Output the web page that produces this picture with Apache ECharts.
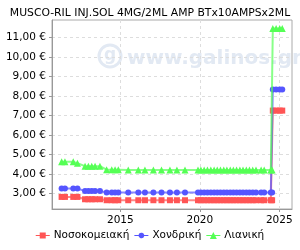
<!DOCTYPE html>
<html><head><meta charset="utf-8">
<script src="https://cdn.jsdelivr.net/npm/echarts@6/dist/echarts.min.js"></script>
<style>html,body{margin:0;padding:0;background:#fff}#c{width:300px;height:250px}</style>
</head><body><div id="c"></div>
<script>
var title = 'MUSCO-RIL INJ.SOL 4MG/2ML AMP BTx10AMPSx2ML';
var seriesNames = ['Νοσοκομειακή', 'Χονδρική', 'Λιανική'];
var dates = ['2011-04-22','2011-07-08','2012-01-15','2012-04-20','2012-10-12','2012-12-28','2013-03-15','2013-05-30','2013-09-20','2014-02-20','2014-06-18','2014-09-02','2014-11-15','2015-07-01','2016-02-18','2016-07-20','2017-01-30','2017-08-04','2018-02-14','2018-07-24','2019-01-26','2019-11-20','2020-01-25','2020-04-10','2020-06-25','2020-09-10','2020-11-25','2021-02-05','2021-04-20','2021-07-05','2021-09-15','2021-12-01','2022-02-10','2022-04-25','2022-07-10','2022-09-20','2022-12-05','2023-02-15','2023-05-01','2023-07-15','2023-11-10','2024-01-20','2024-06-20','2024-07-20','2024-08-05','2024-10-20','2025-01-10','2025-03-10'];
var hospital = [2.82,2.82,2.82,2.82,2.70,2.70,2.70,2.70,2.70,2.65,2.65,2.65,2.65,2.65,2.65,2.65,2.65,2.65,2.65,2.65,2.65,2.65,2.65,2.65,2.65,2.65,2.65,2.65,2.65,2.65,2.65,2.65,2.65,2.65,2.65,2.65,2.65,2.65,2.65,2.65,2.65,2.65,2.65,2.65,7.25,7.25,7.25,7.25];
var wholesale = [3.25,3.25,3.25,3.25,3.12,3.12,3.12,3.12,3.12,3.05,3.05,3.05,3.05,3.05,3.05,3.05,3.05,3.05,3.05,3.05,3.05,3.05,3.05,3.05,3.05,3.05,3.05,3.05,3.05,3.05,3.05,3.05,3.05,3.05,3.05,3.05,3.05,3.05,3.05,3.05,3.05,3.05,3.05,3.05,8.33,8.33,8.33,8.33];
var retail = [4.62,4.62,4.62,4.55,4.40,4.40,4.40,4.40,4.40,4.22,4.22,4.22,4.22,4.20,4.20,4.20,4.20,4.20,4.20,4.20,4.20,4.20,4.20,4.20,4.20,4.20,4.20,4.20,4.20,4.20,4.20,4.20,4.20,4.20,4.20,4.20,4.20,4.20,4.20,4.20,4.20,4.20,4.20,4.20,11.47,11.47,11.47,11.47];
var xTickYears = [2015, 2020, 2025];
var yTicks = [3, 4, 5, 6, 7, 8, 9, 10, 11];
var colors = ['#ff5555', '#5555ff', '#55ff55'];
var symbols = ['rect', 'circle', 'triangle'];
var legendIcons = [
  'path://M0,3L4,3L4,0.5L10,0.5L10,3L14,3L14,4L10,4L10,6.5L4,6.5L4,4L0,4Z',
  'path://M0,3L4.1,3A3,3 0 0 1 9.9,3L14,3L14,4L9.9,4A3,3 0 0 1 4.1,4L0,4Z',
  'path://M0,3L5.5,3L7,0L8.5,3L14,3L14,4L9,4L10.5,7L3.5,7L5,4L0,4Z'
];

function toYear(s) {
  var p = s.split('-').map(Number);
  var start = Date.UTC(p[0], 0, 1), end = Date.UTC(p[0] + 1, 0, 1);
  return p[0] + (Date.UTC(p[0], p[1] - 1, p[2]) - start) / (end - start);
}
var xs = dates.map(toYear);
var allValues = [hospital, wholesale, retail];

var chart = echarts.init(document.getElementById('c'), null, {renderer: 'canvas'});
var font = 'DejaVu Sans';
chart.setOption({
  animation: false,
  backgroundColor: '#ffffff',
  textStyle: {fontFamily: font},
  title: {text: title, left: 'center', top: 3, textStyle: {fontFamily: font, fontSize: 10.8, fontWeight: 'normal', color: '#000'}},
  grid: {left: 52, right: 8, top: 20, bottom: 41, show: true, borderColor: '#aaaaaa', borderWidth: 1},
  graphic: [
    {type: 'circle', shape: {cx: 110, cy: 56, r: 11}, style: {fill: 'none', stroke: '#e2e9f3', lineWidth: 3}, z: 0},
    {type: 'text', style: {x: 110, y: 56, text: 'g', fill: '#e2e9f3', font: 'bold 17px "DejaVu Sans"', align: 'center', verticalAlign: 'middle'}, z: 0},
    {type: 'text', style: {x: 127, y: 59, text: 'www.galinos.gr', fill: '#e2e9f3', font: 'bold 20px "DejaVu Sans"', verticalAlign: 'middle'}, z: 0}
  ],
  legend: {
    bottom: 4, left: 'center', itemGap: 5, itemWidth: 14, itemHeight: 7,
    textStyle: {fontFamily: font, fontSize: 10.5, color: '#000', padding: [0,0,0,-1]},
    data: seriesNames.map(function (n, i) { return {name: n, icon: legendIcons[i]}; })
  },
  xAxis: {
    type: 'value', min: 2010.7, max: 2025.8,
    axisLine: {show: true, lineStyle: {color: '#999999'}},
    axisTick: {show: true, length: 3, lineStyle: {color: '#999999'}, customValues: xTickYears},
    axisLabel: {customValues: xTickYears, color: '#000', fontSize: 10.5, margin: 6, fontFamily: font, formatter: function (v) { return String(Math.round(v)); }},
    splitLine: {show: true, lineStyle: {color: '#dddddd', type: [3, 3]}}
  },
  yAxis: {
    type: 'value', min: 2.2, max: 11.9,
    axisLine: {show: true, lineStyle: {color: '#999999'}},
    axisTick: {show: true, length: 3, lineStyle: {color: '#999999'}, customValues: yTicks},
    axisLabel: {customValues: yTicks, color: '#000', fontSize: 10.5, margin: 6, fontFamily: font, formatter: function (v) { return v.toFixed(2).replace('.', ',') + ' €'; }},
    splitLine: {show: true, lineStyle: {color: '#dddddd', type: [3, 3]}}
  },
  series: seriesNames.map(function (n, i) {
    return {
      name: n, type: 'line', symbol: symbols[i], symbolSize: i === 2 ? 7 : 6,
      showAllSymbol: true,
      itemStyle: {color: colors[i]},
      lineStyle: {color: colors[i], width: 2, opacity: 0.7},
      data: xs.map(function (x, k) { return [x, allValues[i][k]]; }),
      z: 3 + i
    };
  })
});
</script>
</body></html>
